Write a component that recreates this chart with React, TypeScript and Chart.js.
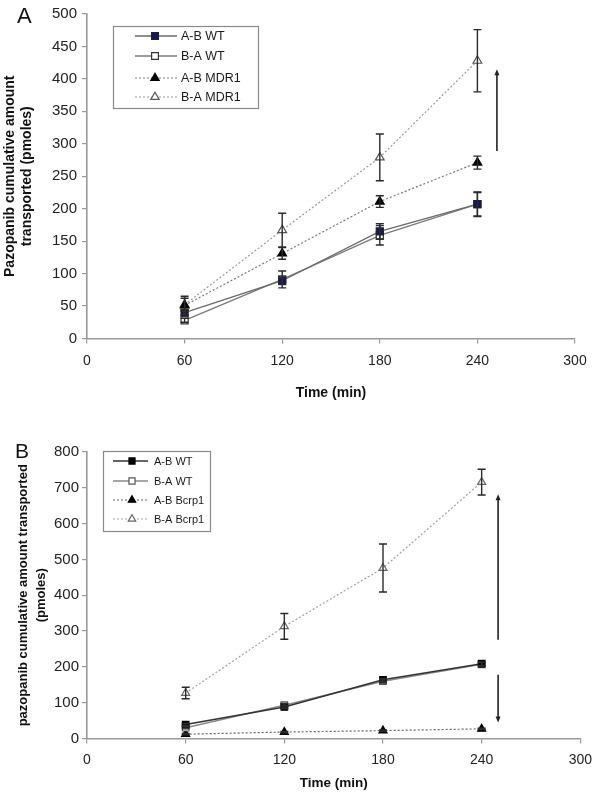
import React, { useEffect, useRef } from "react";
import { Chart, registerables } from "chart.js";

Chart.register(...registerables);

const FONT = "'Liberation Sans', Arial, Helvetica, sans-serif";

// shared
const TIMES = [60, 120, 180, 240];

// ---- Panel A ----
const A_LABELS = ["A-B WT", "B-A WT", "A-B MDR1", "B-A MDR1"];
const A_AB_WT = [40, 89, 165, 207];
const A_AB_WT_ERR = [4, 6, 12, 18];
const A_BA_WT = [28, 91, 159, 207];
const A_BA_WT_ERR = [3, 13, 15, 19];
const A_AB_MDR1 = [51, 131, 211, 271];
const A_AB_MDR1_ERR = [14, 9, 9, 10];
const A_BA_MDR1 = [52, 167, 279, 428];
const A_BA_MDR1_ERR = [10, 26, 36, 48];
const A_Y_MAX = 500;
const A_Y_STEP = 50;
const A_Y_TITLE = ["Pazopanib cumulative amount", "transported (pmoles)"];
// arrow (data units): x, from, to
const A_ARROWS = [[252, 289, 415]];

// ---- Panel B ----
const B_LABELS = ["A-B WT", "B-A WT", "A-B Bcrp1", "B-A Bcrp1"];
const B_AB_WT = [39, 88, 164, 209];
const B_AB_WT_ERR = [3, 5, 4, 5];
const B_BA_WT = [30, 93, 160, 207];
const B_BA_WT_ERR = [3, 5, 4, 5];
const B_AB_BCRP1 = [12, 18, 22, 27];
const B_AB_BCRP1_ERR = [2, 2, 2, 2];
const B_BA_BCRP1 = [127, 313, 476, 716];
const B_BA_BCRP1_ERR = [16, 36, 67, 36];
const B_Y_MAX = 800;
const B_Y_STEP = 100;
const B_Y_TITLE = ["pazopanib cumulative amount transported", "(pmoles)"];
const B_ARROWS = [
  [250, 276, 682],
  [250, 178, 45],
];

const X_MAX = 300;
const X_STEP = 60;
const X_TITLE = "Time (min)";

type Style = {
  line: string;
  lw: number;
  dash: number[];
  point: "rect" | "triangle";
  fill: string;
  stroke: string;
};

const A_STYLES: Style[] = [
  { line: "#6a6a6a", lw: 1.3, dash: [], point: "rect", fill: "#16166a", stroke: "#222" },
  { line: "#7a7a7a", lw: 1.3, dash: [], point: "rect", fill: "#ffffff", stroke: "#333" },
  { line: "#7a7a7a", lw: 1.2, dash: [2, 2], point: "triangle", fill: "#000000", stroke: "#000" },
  { line: "#9a9a9a", lw: 1.2, dash: [2, 2], point: "triangle", fill: "#ffffff", stroke: "#555" },
];
const B_STYLES: Style[] = [
  { line: "#333333", lw: 1.5, dash: [], point: "rect", fill: "#000000", stroke: "#000" },
  { line: "#8a8a8a", lw: 1.5, dash: [], point: "rect", fill: "#ffffff", stroke: "#555" },
  { line: "#666666", lw: 1.2, dash: [2, 2], point: "triangle", fill: "#000000", stroke: "#000" },
  { line: "#a0a0a0", lw: 1.2, dash: [2, 2], point: "triangle", fill: "#ffffff", stroke: "#666" },
];

type Panel = {
  letter: string;
  letterX: number;
  letterBase: number;
  letterSize: number;
  height: number;
  padTop: number;
  padRight: number;
  xAxisH: number;
  yAxisW: number;
  yMax: number;
  yStep: number;
  yTitle: string[];
  yTitleSize: number;
  yTitleLH: number;
  yTitlePad: number;
  xTitleSize: number;
  xTitlePad: number;
  xTickSize: number;
  yTickSize: number;
  yTickPad: number;
  xTickPad: number;
  labels: string[];
  values: number[][];
  errors: number[][];
  styles: Style[];
  radius: number;
  arrows: number[][];
  legend: { x0: number; x1: number; y0: number; y1: number; lx0: number; lx1: number; mx: number; tx: number; rows: number[]; font: number; r: number };
};

const PANEL_A: Panel = {
  letter: "A",
  letterX: 17,
  letterBase: 23,
  letterSize: 22,
  height: 400,
  padTop: 13,
  padRight: 25,
  xAxisH: 61.5,
  yAxisW: 87,
  yMax: A_Y_MAX,
  yStep: A_Y_STEP,
  yTitle: A_Y_TITLE,
  yTitleSize: 14,
  yTitleLH: 1.2,
  yTitlePad: 1.6,
  xTitleSize: 14,
  xTitlePad: 0,
  xTickSize: 14,
  yTickSize: 15,
  yTickPad: 5,
  xTickPad: 9,
  labels: A_LABELS,
  values: [A_AB_WT, A_BA_WT, A_AB_MDR1, A_BA_MDR1],
  errors: [A_AB_WT_ERR, A_BA_WT_ERR, A_AB_MDR1_ERR, A_BA_MDR1_ERR],
  styles: A_STYLES,
  radius: 5,
  arrows: A_ARROWS,
  legend: { x0: 113, x1: 258, y0: 26, y1: 108, lx0: 135, lx1: 177, mx: 155, tx: 181, rows: [36, 56, 78, 97], font: 12.5, r: 4.8 },
};

const PANEL_B: Panel = {
  letter: "B",
  letterX: 15,
  letterBase: 58,
  letterSize: 21,
  height: 395,
  padTop: 52,
  padRight: 14,
  xAxisH: 56.5,
  yAxisW: 87,
  yMax: B_Y_MAX,
  yStep: B_Y_STEP,
  yTitle: B_Y_TITLE,
  yTitleSize: 13,
  yTitleLH: 1.45,
  yTitlePad: 13.5,
  xTitleSize: 13.5,
  xTitlePad: 5,
  xTickSize: 14,
  yTickSize: 15,
  yTickPad: 3,
  xTickPad: 8,
  labels: B_LABELS,
  values: [B_AB_WT, B_BA_WT, B_AB_BCRP1, B_BA_BCRP1],
  errors: [B_AB_WT_ERR, B_BA_WT_ERR, B_AB_BCRP1_ERR, B_BA_BCRP1_ERR],
  styles: B_STYLES,
  radius: 4.6,
  arrows: B_ARROWS,
  legend: { x0: 103, x1: 210, y0: 51, y1: 131, lx0: 113, lx1: 148, mx: 132, tx: 154, rows: [61, 81, 100, 119], font: 11, r: 4.3 },
};

function drawMarker(ctx: CanvasRenderingContext2D, st: Style, x: number, y: number, r: number) {
  ctx.save();
  ctx.setLineDash([]);
  ctx.beginPath();
  if (st.point === "rect") {
    const s = r * Math.SQRT1_2;
    ctx.rect(x - s, y - s, 2 * s, 2 * s);
  } else {
    let a = 0;
    ctx.moveTo(x + Math.sin(a) * r, y - Math.cos(a) * r);
    a += (2 * Math.PI) / 3;
    ctx.lineTo(x + Math.sin(a) * r, y - Math.cos(a) * r);
    a += (2 * Math.PI) / 3;
    ctx.lineTo(x + Math.sin(a) * r, y - Math.cos(a) * r);
    ctx.closePath();
  }
  ctx.fillStyle = st.fill;
  ctx.fill();
  ctx.lineWidth = 1.2;
  ctx.strokeStyle = st.stroke;
  ctx.stroke();
  ctx.restore();
}

function makePlugin(p: Panel) {
  return {
    id: "extras" + p.letter,
    afterDatasetsDraw(chart: any) {
      const ctx: CanvasRenderingContext2D = chart.ctx;
      const xs = chart.scales.x;
      const ys = chart.scales.y;
      ctx.save();
      // error bars
      ctx.strokeStyle = "#2a2a2a";
      ctx.lineWidth = 1.4;
      p.values.forEach((vals, i) => {
        vals.forEach((v, j) => {
          const e = p.errors[i][j];
          const x = xs.getPixelForValue(TIMES[j]);
          const yt = ys.getPixelForValue(v + e);
          const yb = ys.getPixelForValue(v - e);
          ctx.beginPath();
          ctx.moveTo(x, yt);
          ctx.lineTo(x, yb);
          ctx.moveTo(x - 4, yt);
          ctx.lineTo(x + 4, yt);
          ctx.moveTo(x - 4, yb);
          ctx.lineTo(x + 4, yb);
          ctx.stroke();
        });
      });
      // arrows
      ctx.strokeStyle = "#222";
      ctx.fillStyle = "#222";
      ctx.lineWidth = 1.6;
      p.arrows.forEach(([ax, from, to]) => {
        const x = xs.getPixelForValue(ax);
        const y0 = ys.getPixelForValue(from);
        const y1 = ys.getPixelForValue(to);
        const dir = y1 < y0 ? -1 : 1;
        ctx.beginPath();
        ctx.moveTo(x, y0);
        ctx.lineTo(x, y1 - dir * 4);
        ctx.stroke();
        ctx.beginPath();
        ctx.moveTo(x, y1);
        ctx.lineTo(x - 2.5, y1 - dir * 6);
        ctx.lineTo(x + 2.5, y1 - dir * 6);
        ctx.closePath();
        ctx.fill();
      });
      // legend
      const L = p.legend;
      ctx.fillStyle = "#fff";
      ctx.fillRect(L.x0, L.y0, L.x1 - L.x0, L.y1 - L.y0);
      ctx.strokeStyle = "#8a8a8a";
      ctx.lineWidth = 1.2;
      ctx.strokeRect(L.x0 + 0.5, L.y0 + 0.5, L.x1 - L.x0, L.y1 - L.y0);
      p.labels.forEach((lab, i) => {
        const st = p.styles[i];
        const y = L.rows[i];
        ctx.save();
        ctx.strokeStyle = st.line;
        ctx.lineWidth = st.lw;
        ctx.setLineDash(st.dash);
        ctx.beginPath();
        ctx.moveTo(L.lx0, y);
        ctx.lineTo(L.lx1, y);
        ctx.stroke();
        ctx.restore();
        drawMarker(ctx, st, L.mx, y, L.r);
        ctx.fillStyle = "#1a1a1a";
        ctx.font = `${L.font}px ${FONT}`;
        ctx.textBaseline = "middle";
        ctx.textAlign = "left";
        ctx.fillText(lab, L.tx, y + 0.5);
      });
      // panel letter
      ctx.fillStyle = "#111";
      ctx.font = `${p.letterSize}px ${FONT}`;
      ctx.textBaseline = "alphabetic";
      ctx.textAlign = "left";
      ctx.fillText(p.letter, p.letterX, p.letterBase);
      ctx.restore();
    },
  };
}

function buildConfig(p: Panel): any {
  const datasets = p.values.map((vals, i) => {
    const st = p.styles[i];
    return {
      label: p.labels[i],
      data: TIMES.map((t, j) => ({ x: t, y: vals[j] })),
      borderColor: st.line,
      borderWidth: st.lw,
      borderDash: st.dash,
      pointStyle: st.point,
      pointRadius: p.radius,
      pointHoverRadius: p.radius,
      pointBackgroundColor: st.fill,
      pointBorderColor: st.stroke,
      pointBorderWidth: 1.2,
      fill: false,
      tension: 0,
      clip: false,
    };
  });
  return {
    type: "line",
    data: { datasets },
    options: {
      responsive: false,
      animation: false,
      devicePixelRatio: 1,
      layout: { padding: { left: 0, right: p.padRight, top: p.padTop, bottom: 0 } },
      plugins: { legend: { display: false }, tooltip: { enabled: false } },
      scales: {
        x: {
          type: "linear",
          min: 0,
          max: X_MAX,
          afterFit: (s: any) => {
            s.height = p.xAxisH;
          },
          ticks: { stepSize: X_STEP, color: "#222", font: { family: FONT, size: p.xTickSize }, padding: p.xTickPad, maxRotation: 0, autoSkip: false },
          grid: { display: true, drawOnChartArea: false, drawTicks: true, tickLength: 5, color: "#999", lineWidth: 1.2 },
          border: { display: true, color: "#999", width: 1.6 },
          title: {
            display: true,
            text: X_TITLE,
            color: "#111",
            font: { family: FONT, size: p.xTitleSize, weight: "bold", lineHeight: 1 },
            padding: { top: 0, bottom: p.xTitlePad },
          },
        },
        y: {
          type: "linear",
          min: 0,
          max: p.yMax,
          afterFit: (s: any) => {
            s.width = p.yAxisW;
          },
          ticks: { stepSize: p.yStep, color: "#222", font: { family: FONT, size: p.yTickSize }, padding: p.yTickPad },
          grid: { display: true, drawOnChartArea: false, drawTicks: true, tickLength: 5, color: "#999", lineWidth: 1.2 },
          border: { display: true, color: "#999", width: 1.6 },
          title: {
            display: true,
            text: p.yTitle,
            color: "#111",
            font: { family: FONT, size: p.yTitleSize, weight: "bold", lineHeight: p.yTitleLH },
            padding: { top: p.yTitlePad, bottom: 0 },
          },
        },
      },
    },
    plugins: [makePlugin(p)],
  };
}

function PanelChart({ panel, top }: { panel: Panel; top: number }) {
  const ref = useRef<HTMLCanvasElement | null>(null);
  useEffect(() => {
    if (!ref.current) return;
    const chart = new Chart(ref.current, buildConfig(panel));
    return () => chart.destroy();
  }, [panel]);
  return (
    <div style={{ position: "absolute", left: 0, top, width: 600, height: panel.height }}>
      <canvas ref={ref} width={600} height={panel.height} style={{ display: "block", width: 600, height: panel.height }} />
    </div>
  );
}

export default function App() {
  return (
    <div style={{ position: "fixed", left: 0, top: 0, width: 600, height: 795, background: "#fff", overflow: "hidden" }}>
      <PanelChart panel={PANEL_A} top={0} />
      <PanelChart panel={PANEL_B} top={400} />
    </div>
  );
}
